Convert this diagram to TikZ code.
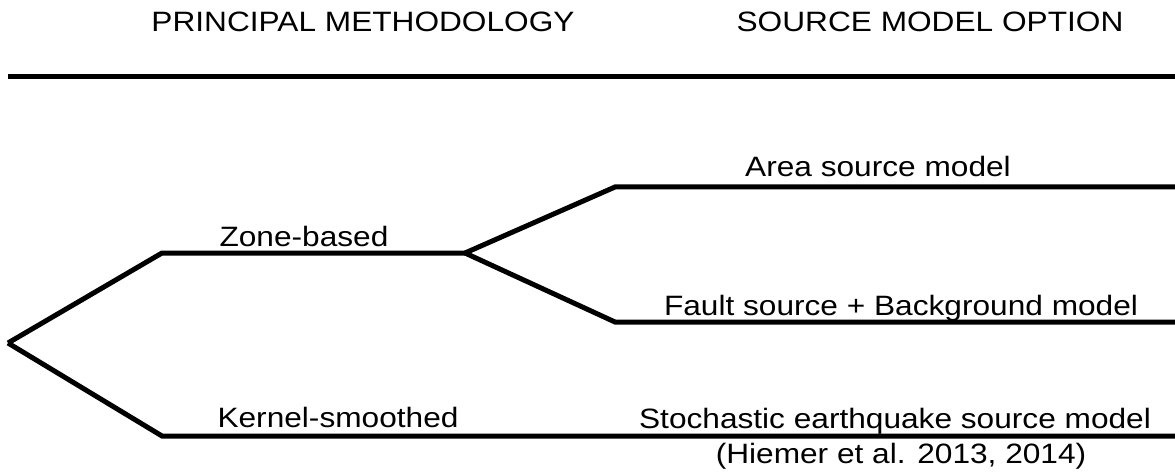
\documentclass[tikz,border=0pt]{standalone}
\usepackage{fontspec}
\setmainfont{Liberation Sans}[FakeStretch=1.13]
\usepackage{tikz}

\begin{document}
\begin{tikzpicture}[x=1pt, y=1pt,
                        branch/.style={line width=5pt, line join=miter},
                        treetext/.style={anchor=base, inner sep=0pt, font=\fontsize{28}{30}\selectfont}]
                        \useasboundingbox (0,0) rectangle (1175,-473);

                        % column heads
                        \node (hMethod) [treetext] at (363,-32) {PRINCIPAL METHODOLOGY};
                        \node (hSource) [treetext] at (930,-32) {SOURCE MODEL OPTION};
                        \coordinate (ruleL) at (8,-77);
                        \coordinate (ruleR) at (1175,-77);
                        \draw[branch] (ruleL) -- (ruleR);

                        % tree points
                        \coordinate (root) at (8,-343);
                        \coordinate (zone) at (162,-253);
                        \coordinate (zoneEnd) at (465,-253);
                        \coordinate (kernel) at (162,-436);
                        \coordinate (kernelEnd) at (1175,-436);
                        \coordinate (area) at (615,-187);
                        \coordinate (areaEnd) at (1175,-187);
                        \coordinate (fault) at (615,-322);
                        \coordinate (faultEnd) at (1175,-322);

                        \draw[branch] (root) -- (zone) -- (zoneEnd);
                        \draw[branch] (root) -- (kernel) -- (kernelEnd);
                        \draw[branch] (zoneEnd) -- (area) -- (areaEnd);
                        \draw[branch] (zoneEnd) -- (fault) -- (faultEnd);

                        \node (tZone) [treetext] at (304,-246) {Zone-based};
                        \node (tKernel) [treetext] at (338,-427) {Kernel-smoothed};
                        \node (tArea) [treetext] at (878,-177) {Area source model};
                        \node (tFault) [treetext] at (901,-315) {Fault source + Background model};
                        \node (tStoch) [treetext] at (895,-428) {Stochastic earthquake source model};
                        \node (tRef) [treetext] at (901,-463) {(Hiemer et al. 2013, 2014)};
                    \end{tikzpicture}
\end{document}
